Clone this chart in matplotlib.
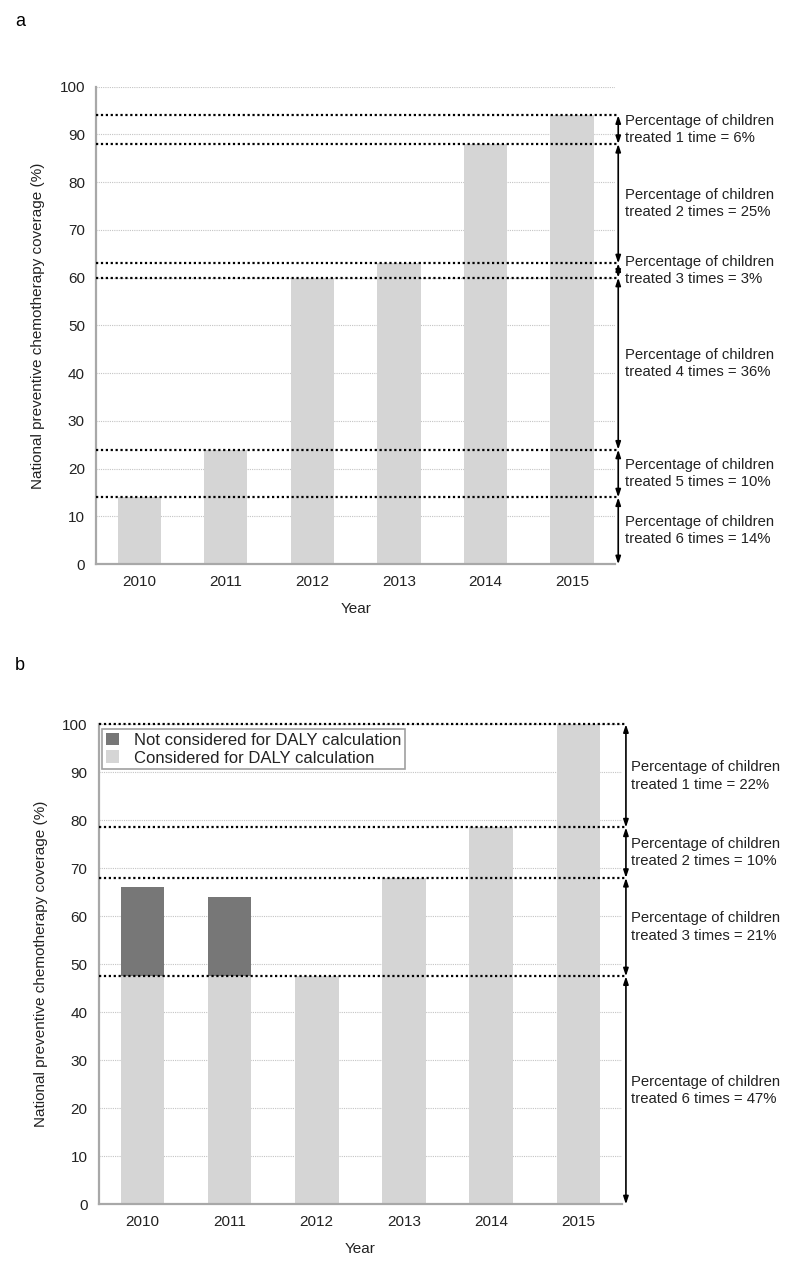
"""Preventive chemotherapy coverage by year, with treatment-count bands (panels a and b)."""
import matplotlib.pyplot as plt
from matplotlib.patches import Patch

plt.rcParams["font.family"] = ["Liberation Sans", "DejaVu Sans"]

# ── data ──────────────────────────────────────────────────────────────────────
YEARS = ["2010", "2011", "2012", "2013", "2014", "2015"]

# panel a: national coverage (%)
COV_A = [14, 24, 60, 63, 88, 94]
TIMES_A = [1, 2, 3, 4, 5, 6]
PCT_A = [6, 25, 3, 36, 10, 14]

# panel b: coverage split into considered / not considered for DALY
CONSIDERED_B = [47.5, 47.5, 47.5, 68, 78.5, 100]
NOT_CONSIDERED_B = [66, 64, None, None, None, None]   # total bar height (%)
TIMES_B = [1, 2, 3, 6]
PCT_B = [22, 10, 21, 47]

LIGHT = "#d5d5d5"
DARK = "#777777"
TXT = "#222222"


def style_axes(ax):
    ax.set_xlim(-0.5, 5.5)
    ax.set_ylim(0, 100)
    ax.set_yticks(range(0, 101, 10))
    ax.set_xticks(range(len(YEARS)))
    ax.set_xticklabels(YEARS)
    ax.tick_params(length=0, labelsize=11, colors=TXT, pad=8)
    for s in ("top", "right"):
        ax.spines[s].set_visible(False)
    for s in ("left", "bottom"):
        ax.spines[s].set_color("#a8a8a8")
        ax.spines[s].set_linewidth(1.6)
    ax.set_axisbelow(True)
    ax.grid(axis="y", color="#c4c4c4", lw=0.8, ls=(0, (1, 1)))
    ax.set_xlabel("Year", fontsize=11, color=TXT, labelpad=9)
    ax.set_ylabel("National preventive chemotherapy coverage (%)",
                  fontsize=11, color=TXT, labelpad=10)


def bands(ax, levels, times, pcts, x_arrow, x_text):
    """Dotted level lines, double arrows and 'treated n times' labels."""
    levels = sorted(levels, reverse=True)
    bounds = levels + [0]
    for lv in levels:
        ax.plot([-0.5, x_arrow], [lv, lv], color="black", lw=1.6,
                ls=(0, (1, 1.2)), clip_on=False, zorder=4)
    for i, (n, p) in enumerate(zip(times, pcts)):
        hi, lo = bounds[i], bounds[i + 1]
        ax.annotate("", xy=(x_arrow, lo), xytext=(x_arrow, hi),
                    arrowprops=dict(arrowstyle="<|-|>,head_length=0.45,head_width=0.15",
                                    color="black", lw=1.2, shrinkA=0, shrinkB=0),
                    annotation_clip=False)
        word = "time" if n == 1 else "times"
        ax.text(x_text, (hi + lo) / 2,
                f"Percentage of children\ntreated {n} {word} = {p}%",
                fontsize=10.7, color=TXT, va="center", ha="left",
                linespacing=1.3, clip_on=False)


fig = plt.figure(figsize=(8, 12.72), dpi=100)
fig.patch.set_facecolor("white")

# ── panel a ───────────────────────────────────────────────────────────────────
ax_a = fig.add_axes([0.12, 0.5564, 0.649, 0.3755])
ax_a.bar(range(len(YEARS)), COV_A, width=0.5, color=LIGHT, zorder=2)
style_axes(ax_a)
bands(ax_a, COV_A, TIMES_A, PCT_A, x_arrow=5.535, x_text=5.615)

# ── panel b ───────────────────────────────────────────────────────────────────
ax_b = fig.add_axes([0.1234, 0.0532, 0.654, 0.3774])
x = range(len(YEARS))
extra = [(t - c) if t is not None else 0 for t, c in zip(NOT_CONSIDERED_B, CONSIDERED_B)]
ax_b.bar(x, CONSIDERED_B, width=0.5, color=LIGHT, zorder=2)
ax_b.bar(x, extra, bottom=CONSIDERED_B, width=0.5, color=DARK, zorder=2)
style_axes(ax_b)
bands(ax_b, sorted(set(CONSIDERED_B)), TIMES_B, PCT_B, x_arrow=5.546, x_text=5.607)

handles = [Patch(facecolor=DARK, edgecolor="none"),
           Patch(facecolor=LIGHT, edgecolor="none")]
leg = ax_b.legend(handles, ["Not considered for DALY calculation",
                            "Considered for DALY calculation"],
                  loc="upper left", bbox_to_anchor=(0.006, 0.99), fontsize=12,
                  frameon=True, fancybox=False, borderpad=0.22, labelspacing=0.15,
                  handlelength=0.8, handleheight=0.8, handletextpad=0.9,
                  borderaxespad=0)
leg.get_frame().set_edgecolor("#888888")
leg.get_frame().set_linewidth(1.2)
for t in leg.get_texts():
    t.set_color(TXT)

fig.text(15 / 800, 1 - 22 / 1272, "a", fontsize=13, ha="left", va="center")
fig.text(15 / 800, 1 - 665 / 1272, "b", fontsize=13, ha="left", va="center")

fig.savefig("out.png", dpi=100, facecolor="white")
plt.close(fig)
